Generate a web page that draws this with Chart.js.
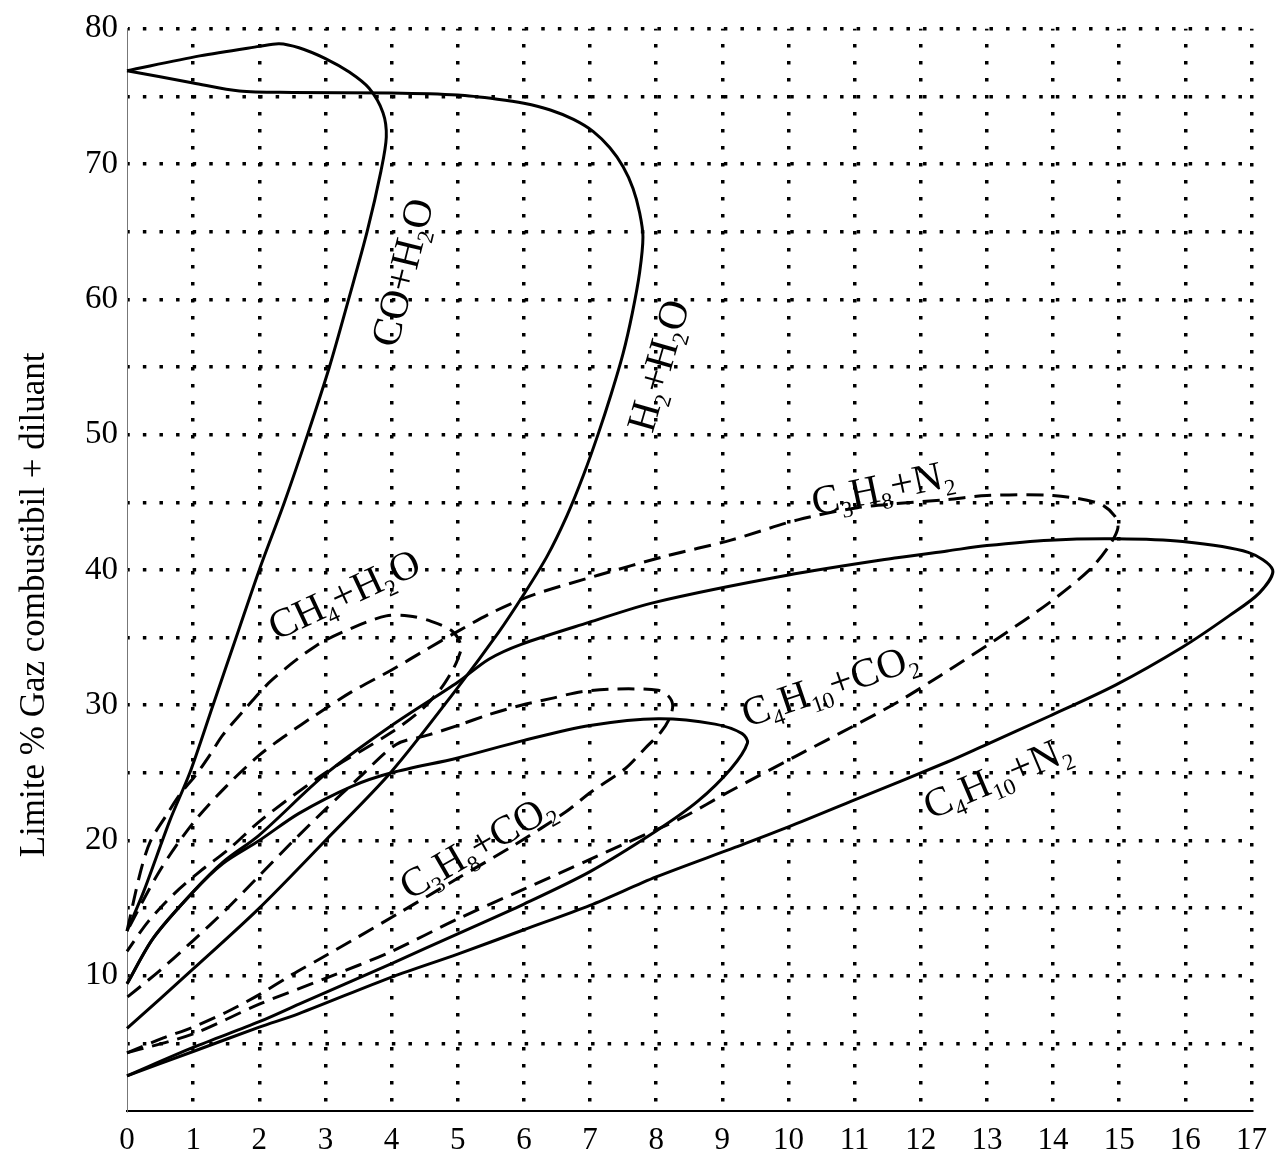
<!DOCTYPE html>
<html>
<head>
<meta charset="utf-8">
<script src="https://cdn.jsdelivr.net/npm/chart.js@4.4.1/dist/chart.umd.min.js"></script>
<style>
  html, body { margin: 0; padding: 0; background: #fff; }
  #wrap { width: 1278px; height: 1166px; }
</style>
</head>
<body>
<div id="wrap"><canvas id="chart" width="1278" height="1166"></canvas></div>
<script>
// each curve: [diluant %, limite %], traced along the envelope
const coH2O = [[0,13.3],[0.25,16.2],[0.65,21.5],[0.95,25],[1.3,30],[1.65,35],[2.0,40],[2.38,45],[2.73,50],[3.06,55],[3.35,60],[3.63,65],[3.84,69.5],[3.92,72],[3.87,73.8],[3.66,75.6],[3.36,76.8],[3.0,77.8],[2.6,78.6],[2.3,78.9],[2.0,78.7],[1.1,78.0],[0,76.9]];
const h2H2O = [[0,6.1],[1,10.5],[2,15.0],[3,20.0],[4,25.1],[5,31.3],[5.62,35.4],[6.0,38.2],[6.35,41],[6.65,44],[6.9,47],[7.12,50],[7.32,53],[7.5,56],[7.64,59],[7.75,62],[7.8,64.6],[7.75,66.4],[7.65,68.2],[7.5,69.8],[7.3,71.2],[7.05,72.4],[6.75,73.3],[6.4,74.0],[6.0,74.5],[5.6,74.8],[5.0,75.1],[4,75.25],[2.5,75.3],[1.7,75.4],[1.0,76.0],[0,76.9]];
const ch4H2O = [[0,13.3],[0.2,17.6],[0.35,19.9],[0.6,21.9],[0.8,23.4],[1.05,24.9],[1.25,26.3],[1.45,27.8],[1.8,29.8],[2.2,31.9],[2.86,34.4],[3.4,35.7],[3.92,36.6],[4.26,36.6],[4.6,36.2],[4.91,35.5],[5.05,34.4],[5.0,33.4],[4.9,32.4],[4.74,31.2],[4.46,29.7],[4.0,28.0],[3.0,25.0],[2.05,21.6],[1.55,19.4],[1.1,17.7],[0.7,16.0],[0.32,14.0],[0,11.8]];
const c3h8CO2 = [[0,4.3],[0.55,5.4],[1,6.2],[1.5,7.3],[2,8.6],[2.5,10.1],[2.9,11.2],[3.4,12.6],[4.1,14.6],[5,17.2],[5.87,19.7],[6.63,22.1],[7.02,23.6],[7.53,25.3],[7.83,26.8],[8.07,28],[8.2,29],[8.25,30],[8.18,30.7],[8.03,31.1],[7.42,31.2],[6.87,31.0],[6.42,30.5],[5.96,30.0],[5.47,29.3],[5.0,28.5],[4.56,27.8],[4.07,27.1],[3.5,24.6],[3,22.3],[2.5,19.9],[2,17.4],[1.5,14.9],[1,12.6],[0.5,10.4],[0,8.4]];
const c3h8N2 = [[0,4.3],[1,5.7],[2,7.9],[3,9.8],[4,11.8],[5,14.2],[6,16.4],[7,18.6],[7.5,19.7],[8.4,21.7],[9.1,23.6],[10.1,26.2],[11,28.5],[11.64,30.2],[12.3,32.2],[13.15,34.9],[13.95,37.6],[14.55,40],[14.85,41.8],[14.98,43.1],[14.93,44],[14.7,44.9],[14,45.5],[13,45.5],[12.4,45.2],[11.64,44.9],[11.04,44.6],[10.14,43.7],[9.13,42.2],[8.13,41.0],[7.12,39.6],[6.11,38.1],[5.5,36.8],[4.98,35.4],[4.52,34.1],[4.0,32.6],[3.4,31.0],[2.86,29.3],[2.41,27.8],[2.0,26.3],[1.5,24.0],[1.0,21.3],[0.5,17.8],[0,13.3]];
const c4h10CO2 = [[0,2.6],[1,4.7],[2,6.6],[2.6,7.9],[4,10.9],[5,13.1],[6,15.3],[7,17.7],[8,20.7],[8.63,22.9],[9.13,25.3],[9.38,27.2],[9.3,27.9],[8.89,28.6],[8.03,29.0],[7.0,28.5],[6.0,27.4],[5.0,26.1],[4.0,25.0],[3.4,24.0],[2.6,22.0],[2.0,20.0],[1.45,18.3],[1,16.2],[0.4,12.8],[0,9.4]];
const c4h10N2 = [[0,2.6],[1,4.4],[2,6.2],[2.6,7.2],[4,9.9],[5,11.6],[6,13.4],[7,15.2],[8,17.3],[9.2,19.5],[10,21.0],[11,23.0],[12.4,25.8],[12.95,27.0],[13.95,29.2],[14.95,31.5],[15.96,34.3],[16.66,36.6],[17.12,38.3],[17.32,40.0],[16.95,41.3],[15.96,42.1],[14.95,42.3],[13.95,42.2],[13.0,41.8],[12.4,41.4],[11.64,40.9],[9.98,39.6],[7.98,37.6],[6.97,36.1],[5.96,34.5],[5.47,33.4],[5.0,31.7],[4.0,28.5],[3.0,24.9],[2.0,20.4],[1.45,18.4],[1,16.2],[0.4,12.8],[0,9.4]];

const yTickLabels = [10, 20, 30, 40, 50, 60, 70, 80];
const xTickLabels = [0, 1, 2, 3, 4, 5, 6, 7, 8, 9, 10, 11, 12, 13, 14, 15, 16, 17];

// which curves are solid / dashed in the original
const curves = [
  { name: 'CO+H2O', pts: coH2O, dashed: false },
  { name: 'H2+H2O', pts: h2H2O, dashed: false },
  { name: 'CH4+H2O', pts: ch4H2O, dashed: true },
  { name: 'C3H8+CO2', pts: c3h8CO2, dashed: true },
  { name: 'C3H8+N2', pts: c3h8N2, dashed: true },
  { name: 'C4H10+CO2', pts: c4h10CO2, dashed: false },
  { name: 'C4H10+N2', pts: c4h10N2, dashed: false }
];

// labels written along the curves ("_n" = subscript)
const curveLabels = [
  { text: 'CO+H_2O', x: 4.16, y: 62.0, angle: -76 },
  { text: 'H_2+H_2O', x: 8.03, y: 55.1, angle: -74 },
  { text: 'CH_4+H_2O', x: 3.28, y: 38.2, angle: -25 },
  { text: 'C_3H_8+N_2', x: 11.42, y: 46.1, angle: -12 },
  { text: 'C_4H_10+CO_2', x: 10.62, y: 31.5, angle: -19 },
  { text: 'C_3H_8+CO_2', x: 5.29, y: 19.6, angle: -30 },
  { text: 'C_4H_10+N_2', x: 13.15, y: 24.7, angle: -23 }
];

const SERIF = '"Liberation Serif", "Times New Roman", serif';

function drawFormula(ctx, text, size) {
  const parts = text.split(/(_\d+)/).filter(Boolean).map(p =>
    p[0] === '_' ? { t: p.slice(1), sub: true } : { t: p, sub: false });
  const mainFont = size + 'px ' + SERIF;
  const subFont = Math.round(size * 0.55) + 'px ' + SERIF;
  let w = 0;
  parts.forEach(p => {
    ctx.font = p.sub ? subFont : mainFont;
    p.w = ctx.measureText(p.t).width;
    w += p.w;
  });
  let cx = -w / 2;
  ctx.fillStyle = '#000';
  ctx.textBaseline = 'alphabetic';
  ctx.textAlign = 'left';
  parts.forEach(p => {
    ctx.font = p.sub ? subFont : mainFont;
    ctx.fillText(p.t, cx, size * 0.33 + (p.sub ? size * 0.2 : 0));
    cx += p.w;
  });
}

const labelPlugin = {
  id: 'curveLabels',
  afterDatasetsDraw(chart) {
    const { ctx, scales: { x, y } } = chart;
    curveLabels.forEach(l => {
      ctx.save();
      ctx.translate(x.getPixelForValue(l.x), y.getPixelForValue(l.y));
      ctx.rotate(l.angle * Math.PI / 180);
      drawFormula(ctx, l.text, 41);
      ctx.restore();
    });
  }
};

const hideZero = c => (c.tick && c.tick.value === 0) ? 'rgba(0,0,0,0)' : '#000';

const ctx = document.getElementById('chart').getContext('2d');
new Chart(ctx, {
  type: 'scatter',
  data: {
    datasets: curves.map(c => ({
      label: c.name,
      data: c.pts.map(p => ({ x: p[0], y: p[1] })),
      showLine: true,
      borderColor: '#000',
      borderWidth: 3,
      borderDash: c.dashed ? [17, 9] : [],
      pointRadius: 0,
      tension: 0.3,
      clip: false
    }))
  },
  options: {
    responsive: false,
    animation: false,
    devicePixelRatio: 1,
    layout: { padding: { left: 0, top: 22, right: 24, bottom: 0 } },
    plugins: { legend: { display: false }, tooltip: { enabled: false } },
    scales: {
      x: {
        type: 'linear',
        min: 0,
        max: 17,
        afterFit: s => { s.height = 55; },
        afterBuildTicks: s => { s.ticks = xTickLabels.map(v => ({ value: v })); },
        ticks: { color: '#000', padding: 11, font: { family: SERIF, size: 31 } },
        grid: { color: hideZero, lineWidth: 3.5, drawTicks: false },
        border: { display: true, color: '#000', width: 2, dash: [3.5, 13.5], dashOffset: 1.75 }
      },
      y: {
        type: 'linear',
        min: 0,
        max: 80,
        afterFit: s => { s.width = 127; },
        ticks: {
          stepSize: 5,
          color: '#000',
          padding: 9,
          font: { family: SERIF, size: 33 },
          callback: v => yTickLabels.includes(v) ? String(v) : ''
        },
        grid: { color: hideZero, lineWidth: 3.5, drawTicks: false },
        border: { display: true, color: '#777', width: 1, dash: [3.5, 13.1], dashOffset: 1.75 },
        title: {
          display: true,
          text: 'Limite % Gaz combustibil + diluant        ',
          color: '#000',
          font: { family: SERIF, size: 35 },
          padding: { top: 14, bottom: 0 }
        }
      }
    }
  },
  plugins: [labelPlugin]
});
</script>
</body>
</html>
